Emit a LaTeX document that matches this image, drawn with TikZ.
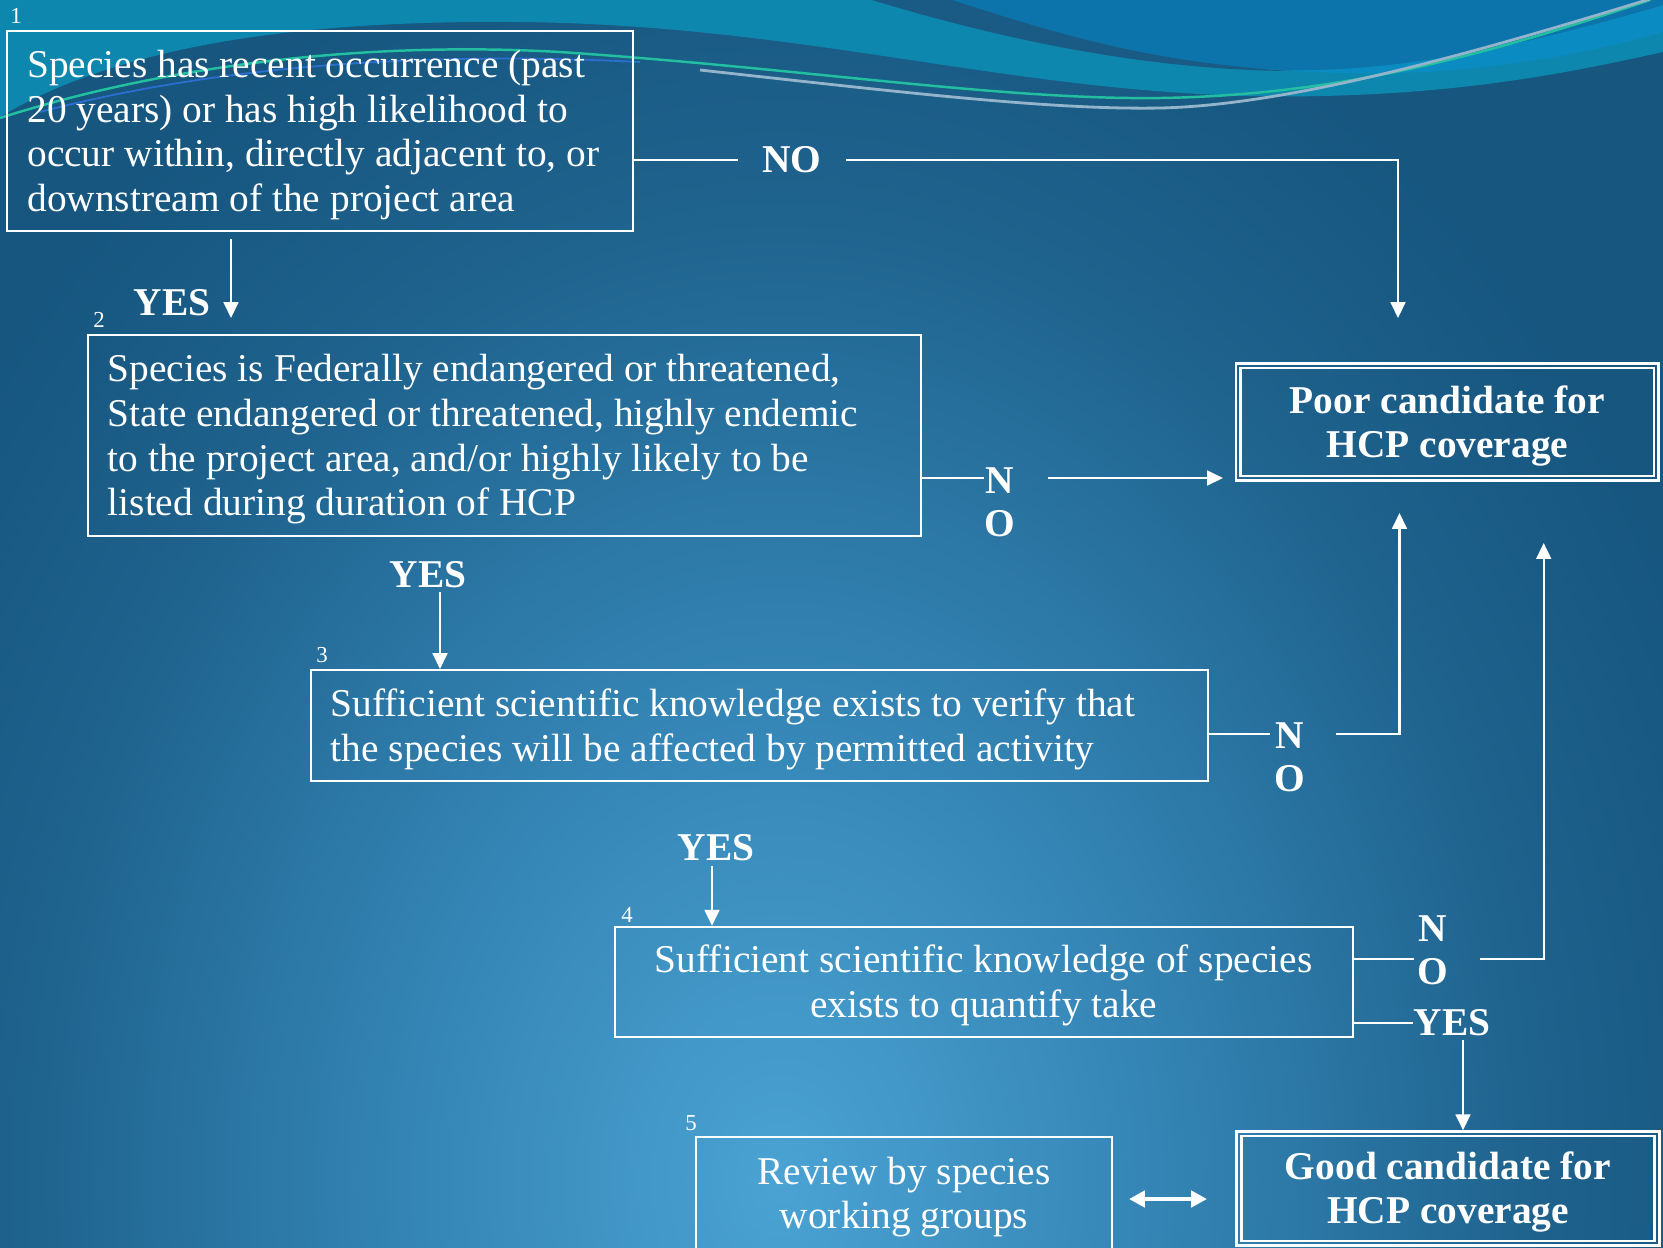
\documentclass[tikz,border=0pt]{standalone}
\usepackage{fontspec}
\setmainfont{Liberation Serif}
\usetikzlibrary{arrows.meta}
\definecolor{bgin}{HTML}{4AA3D3}
\definecolor{bgmid}{HTML}{3586B6}
\definecolor{bgedge}{HTML}{1E628D}
\definecolor{bgout}{HTML}{16567F}
\definecolor{wteal}{HTML}{0E87AE}
\definecolor{wblue}{HTML}{0C74AA}
\definecolor{wlight}{HTML}{0A8BC2}
\definecolor{wdark}{HTML}{1A5B86}
\definecolor{wgreen}{HTML}{22BFA0}
\definecolor{wgrey}{HTML}{93B4CA}
\definecolor{wline}{HTML}{2C6FD0}
\pgfdeclareradialshading{bgglow}{\pgfpoint{0bp}{0bp}}{color(0bp)=(bgin); color(9bp)=(bgmid); color(19bp)=(bgedge); color(25bp)=(bgout); color(50bp)=(bgout)}
\newcommand{\topstrut}{\rule{0pt}{10pt}}

\begin{document}
\begin{tikzpicture}[x=0.01cm,y=-0.01cm,
  box/.style={draw=white,line width=0.55pt,text=white,inner xsep=0.2cm,inner ysep=0pt,font=\fontsize{11.2}{12.7}\selectfont},
  cand/.style={draw=white,line width=0.8pt,text=white,align=flush center,inner sep=0pt,font=\bfseries\fontsize{11.2}{12.5}\selectfont},
  lbl/.style={text=white,inner sep=0pt,align=center,font=\bfseries\fontsize{11.2}{12.2}\selectfont},
  num/.style={text=white,inner sep=0pt,font=\fontsize{6.5}{7}\selectfont},
  link/.style={white,line width=0.6pt},
  arr/.style={link,-{Triangle[length=4.5pt,width=4.2pt]}},
  darr/.style={white,line width=1.1pt,{Triangle[length=4.5pt,width=4.6pt]}-{Triangle[length=4.5pt,width=4.6pt]}}]
\useasboundingbox (0,0) rectangle (1663,1247);
\clip (0,0) rectangle (1663,1247);
\fill[bgout] (0,0) rectangle (1663,1247);
\shade[shading=bgglow] (780,1180) ellipse [x radius=10cm,y radius=13cm];
\fill[wteal] (0,0) -- (0,117) .. controls (120,45) and (300,20) .. (520,22) .. controls (800,25) and (1000,90) .. (1250,96) .. controls (1450,100) and (1580,70) .. (1663,52) -- (1663,0) -- cycle;
\fill[wlight] (1290,70) .. controls (1420,72) and (1560,35) .. (1663,5) -- (1663,32) .. controls (1560,62) and (1420,82) .. (1290,70) -- cycle;
\fill[wblue] (952,0) .. controls (1080,45) and (1180,68) .. (1290,70) .. controls (1420,72) and (1560,35) .. (1663,5) -- (1663,0) -- cycle;
\fill[wdark] (872,0) .. controls (1020,45) and (1160,70) .. (1290,71) .. controls (1150,62) and (1060,35) .. (952,0) -- cycle;
\draw[wline,line width=0.5pt] (40,112) .. controls (200,70) and (400,50) .. (640,62);
\draw[wgreen,line width=0.7pt] (0,118) .. controls (150,70) and (350,40) .. (560,52) .. controls (800,68) and (1000,100) .. (1160,98) .. controls (1350,95) and (1500,50) .. (1650,0);
\draw[wgrey,line width=0.8pt] (700,70) .. controls (900,92) and (1050,110) .. (1160,108) .. controls (1300,105) and (1500,45) .. (1663,-5);

\node[box,align=flush left,text width=5.85cm,minimum height=2cm] (b1) at (320,131) {\topstrut Species has recent occurrence (past\\20 years) or has high likelihood to\\occur within, directly adjacent to, or\\downstream of the project area};
\node[box,align=flush left,text width=7.925cm,minimum height=2.007cm] (b2) at (504.3,435.4) {\topstrut Species is Federally endangered or threatened,\\State endangered or threatened, highly endemic\\to the project area, and/or highly likely to be\\listed during duration of HCP};
\node[box,align=flush left,text width=8.567cm,minimum height=1.11cm] (b3) at (759.4,725.5) {\topstrut Sufficient scientific knowledge exists to verify that\\the species will be affected by permitted activity};
\node[box,align=flush center,text width=6.975cm,minimum height=1.1cm] (b4) at (983.8,981.7) {\topstrut Sufficient scientific knowledge of species\\exists to quantify take};
\node[box,align=flush center,text width=3.76cm,minimum height=1.13cm] (b5) at (904,1193.2) {\topstrut Review by species\\working groups};
\node[cand,minimum width=4.227cm,minimum height=1.171cm] (poor) at (1447.4,422.2) {\topstrut Poor candidate for\\HCP coverage};
\node[cand,minimum width=4.22cm,minimum height=1.135cm] (good) at (1448,1188.4) {\topstrut Good candidate for\\HCP coverage};
\draw[white,line width=0.6pt] ([shift={(6,6)}]poor.north west) rectangle ([shift={(-6,-6)}]poor.south east);
\draw[white,line width=0.6pt] ([shift={(6,6)}]good.north west) rectangle ([shift={(-6,-6)}]good.south east);

\node[num] (num1) at (16,16) {1};
\node[num] (num2) at (99,320) {2};
\node[num] (num3) at (322,655) {3};
\node[num] (num4) at (627,915) {4};
\node[num] (num5) at (691,1123) {5};

\node[lbl,inner xsep=0.24cm] (no1) at (792,160) {NO};
\node[lbl] (yes1) at (172,303) {YES};
\node[lbl] (no2) at (1000,502) {N\\O};
\node[lbl] (yes2) at (428,575) {YES};
\node[lbl] (no3) at (1290,757) {N\\O};
\node[lbl] (yes3) at (716,848) {YES};
\node[lbl] (no4) at (1432.5,950) {N\\O};
\node[lbl] (yes4) at (1452,1023) {YES};

\coordinate (tp1) at (1398,318);
\coordinate (y1a) at (231,239);
\coordinate (y1b) at (231,318);
\coordinate (n2a) at (984,478);
\coordinate (n2b) at (1048,478);
\coordinate (tp2) at (1223,478);
\coordinate (y2a) at (440,592);
\coordinate (n3a) at (1270,734);
\coordinate (n3b) at (1336,734);
\coordinate (tp3) at (1399.5,513);
\coordinate (y3a) at (712,866);
\coordinate (n4a) at (1413.6,959);
\coordinate (n4b) at (1480,959);
\coordinate (tp4) at (1543.7,543);
\coordinate (y4a) at (1463,1040);
\coordinate (d5a) at (1129,1199);
\coordinate (d5b) at (1207,1199);

\draw[link] (b1.east |- no1) -- (no1.west);
\draw[arr] (no1.east) -| (tp1);
\draw[arr] (y1a) -- (y1b);
\draw[link] (b2.east |- n2a) -- (n2a);
\draw[arr] (n2b) -- (tp2);
\draw[arr] (y2a) -- (y2a |- b3.north);
\draw[link] (b3.east |- n3a) -- (n3a);
\draw[arr] (n3b) -| (tp3);
\draw[arr] (y3a) -- (y3a |- b4.north);
\draw[link] (b4.east |- n4a) -- (n4a);
\draw[arr] (n4b) -| (tp4);
\draw[link] (b4.east |- yes4) -- (yes4.west);
\draw[arr] (y4a) -- (y4a |- good.north);
\draw[darr] (d5a) -- (d5b);
\end{tikzpicture}
\end{document}
